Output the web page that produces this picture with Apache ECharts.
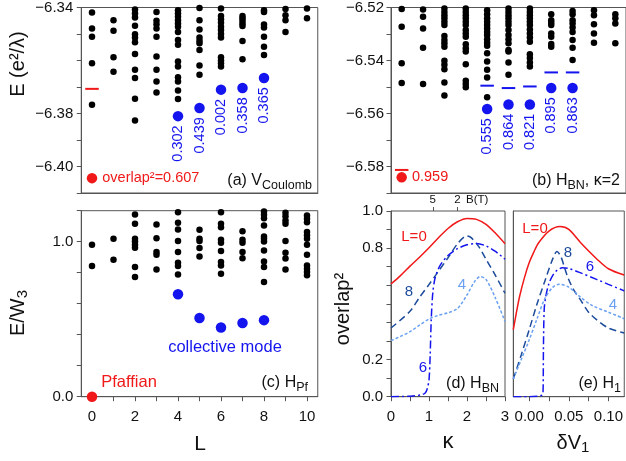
<!DOCTYPE html>
<html>
<head>
<meta charset="utf-8">
<script src="https://cdn.jsdelivr.net/npm/echarts@6/dist/echarts.min.js"></script>
<style>html,body{margin:0;padding:0;background:#fff}#chart{width:626px;height:461px}</style>
</head>
<body>
<div id="chart"></div>
<script>
// ---- data ----
var modeL = [4, 5, 6, 7, 8];

// (a) Coulomb spectrum, E in e^2/lambda, one list per L = 0..10
var coulombLevels = [
  [-6.3419, -6.3479, -6.3510, -6.3610, -6.3767],
  [-6.3448, -6.3488, -6.3588, -6.3642],
  [-6.3408, -6.3423, -6.3438, -6.3469, -6.3501, -6.3514, -6.3531, -6.3575, -6.3635, -6.3666, -6.3744, -6.3826],
  [-6.3417, -6.3450, -6.3463, -6.3479, -6.3510, -6.3585, -6.3635, -6.3679, -6.3721],
  [-6.3410, -6.3423, -6.3435, -6.3448, -6.3460, -6.3473, -6.3492, -6.3523, -6.3541, -6.3604, -6.3623, -6.3663, -6.3679, -6.3713, -6.3745],
  [-6.3402, -6.3448, -6.3483, -6.3513, -6.3525, -6.3535, -6.3560, -6.3619, -6.3654],
  [-6.3404, -6.3432, -6.3444, -6.3458, -6.3473, -6.3485, -6.3500, -6.3513, -6.3588, -6.3600, -6.3610, -6.3623],
  [-6.3432, -6.3441, -6.3450, -6.3460, -6.3470, -6.3526, -6.3595],
  [-6.3410, -6.3417, -6.3464, -6.3475, -6.3510, -6.3548, -6.3579],
  [-6.3406, -6.3429, -6.3448, -6.3492],
  [-6.3404, -6.3441]
];
var coulombMode = [-6.3810, -6.3779, -6.3710, -6.3704, -6.3666];
var coulombModeOverlap = ['0.302', '0.439', '0.002', '0.358', '0.365'];
var coulombPfDot = -6.4044;
var coulombPfDash = -6.3707;
var coulombPfOverlap = '0.607';

// (b) H_BN at kappa = 2
var bnLevels = [
  [-6.5206, -6.5273, -6.5410, -6.5485],
  [-6.5208, -6.5235, -6.5279, -6.5352, -6.5489],
  [-6.5204, -6.5217, -6.5229, -6.5241, -6.5254, -6.5266, -6.5308, -6.5323, -6.5335, -6.5348, -6.5401, -6.5416, -6.5433, -6.5483, -6.5532],
  [-6.5204, -6.5217, -6.5229, -6.5241, -6.5254, -6.5266, -6.5285, -6.5298, -6.5310, -6.5339, -6.5354, -6.5366, -6.5414, -6.5476, -6.5489, -6.5501],
  [-6.5210, -6.5225, -6.5241, -6.5254, -6.5266, -6.5279, -6.5292, -6.5304, -6.5320, -6.5333, -6.5344, -6.5373, -6.5404, -6.5435, -6.5464, -6.5539],
  [-6.5204, -6.5217, -6.5229, -6.5241, -6.5254, -6.5266, -6.5285, -6.5304, -6.5320, -6.5335, -6.5360, -6.5366, -6.5408, -6.5454],
  [-6.5204, -6.5217, -6.5229, -6.5241, -6.5254, -6.5266, -6.5283, -6.5298, -6.5313, -6.5329, -6.5376, -6.5391, -6.5408, -6.5423],
  [-6.5225, -6.5248, -6.5258, -6.5266, -6.5298, -6.5310, -6.5338, -6.5348],
  [-6.5213, -6.5225, -6.5248, -6.5260, -6.5275, -6.5292, -6.5323, -6.5352, -6.5398],
  [-6.5210, -6.5229, -6.5263, -6.5298, -6.5333],
  [-6.5225, -6.5241, -6.5260, -6.5335]
];
var bnMode = [-6.5583, -6.5566, -6.5566, -6.5504, -6.5504];
var bnModeDash = [-6.5495, -6.5504, -6.5498, -6.5445, -6.5445];
var bnModeOverlap = ['0.555', '0.864', '0.821', '0.895', '0.863'];
var bnPfDot = -6.5841;
var bnPfDash = -6.5813;
var bnPfOverlap = '0.959';

// (c) H_Pf, E/W3
var pfLevels = [
  [0.981, 0.843],
  [1.019, 0.884],
  [1.176, 1.116, 1.019, 1.002, 0.981, 0.961, 0.837, 0.772],
  [1.111, 1.023, 0.933, 0.916, 0.820],
  [1.190, 1.122, 1.079, 1.004, 0.933, 0.865, 0.843, 0.788],
  [1.077, 1.019, 1.004, 0.959, 0.905],
  [1.190, 1.116, 1.094, 1.013, 0.994, 0.940, 0.869, 0.847, 0.794],
  [1.068, 1.013, 0.994, 0.933, 0.894],
  [1.195, 1.174, 1.152, 1.105, 1.034, 1.019, 1.002, 0.944, 0.873, 0.837, 0.740],
  [1.187, 1.165, 1.137, 1.116, 1.004, 0.929, 0.891, 0.820],
  [1.169, 1.148, 1.126, 1.062, 1.041, 1.019, 0.981, 0.916, 0.847, 0.826, 0.804, 0.783]
];
var pfMode = [0.661, 0.508, 0.447, 0.476, 0.494];
var pfGround = 0;

// (d) overlap^2 vs kappa
var kapL0 = [0, 0.25, 0.5, 0.75, 1, 1.25, 1.5, 1.75, 2, 2.25, 2.5, 2.75, 3];
var ovL0 = [0.607, 0.652, 0.703, 0.751, 0.802, 0.856, 0.906, 0.942, 0.960, 0.955, 0.928, 0.880, 0.824];
var kapL8 = [0, 0.5, 0.75, 1, 1.25, 1.5, 1.75, 2, 2.1, 2.3, 2.5, 2.75, 3];
var ovL8 = [0.370, 0.460, 0.535, 0.604, 0.676, 0.748, 0.823, 0.866, 0.858, 0.811, 0.740, 0.652, 0.557];
var kapL6 = [0, 0.5, 0.8, 0.9, 0.95, 1.0, 1.03, 1.06, 1.1, 1.15, 1.2, 1.3, 1.5, 1.75, 2, 2.25, 2.5, 2.75, 3];
var ovL6 = [0.0, 0.003, 0.01, 0.02, 0.04, 0.09, 0.22, 0.42, 0.56, 0.63, 0.665, 0.71, 0.76, 0.797, 0.818, 0.825, 0.812, 0.782, 0.740];
var kapL4 = [0, 0.25, 0.5, 0.75, 1, 1.25, 1.5, 1.75, 2, 2.2, 2.35, 2.5, 2.75, 3];
var ovL4 = [0.302, 0.325, 0.350, 0.385, 0.418, 0.438, 0.452, 0.475, 0.548, 0.620, 0.647, 0.632, 0.530, 0.405];
var bField = ['5', '2'];
var bKappa = [1.10, 1.75];

// (e) overlap^2 vs dV1
var dvL0 = [-0.02, -0.016, -0.012, -0.006, 0, 0.006, 0.012, 0.025, 0.039, 0.05, 0.065, 0.086, 0.1, 0.12];
var eOvL0 = [0.361, 0.455, 0.541, 0.64, 0.721, 0.78, 0.829, 0.892, 0.916, 0.901, 0.829, 0.739, 0.689, 0.655];
var dvL8 = [-0.02, -0.01, 0, 0.01, 0.02, 0.03, 0.035, 0.04, 0.045, 0.05, 0.057, 0.065, 0.075, 0.085, 0.1, 0.12];
var eOvL8 = [0.095, 0.225, 0.36, 0.5, 0.625, 0.745, 0.782, 0.755, 0.69, 0.63, 0.57, 0.52, 0.455, 0.415, 0.37, 0.343];
var dvL6 = [-0.02, 0, 0.012, 0.016, 0.0175, 0.018, 0.019, 0.021, 0.025, 0.03, 0.035, 0.042, 0.05, 0.065, 0.085, 0.1, 0.12];
var eOvL6 = [0, 0, 0.003, 0.008, 0.02, 0.25, 0.47, 0.54, 0.61, 0.655, 0.68, 0.694, 0.69, 0.667, 0.632, 0.605, 0.57];
var dvL4 = [-0.02, -0.01, 0, 0.01, 0.02, 0.03, 0.038, 0.05, 0.065, 0.08, 0.1, 0.12];
var eOvL4 = [0.095, 0.2, 0.305, 0.42, 0.53, 0.59, 0.605, 0.59, 0.535, 0.49, 0.455, 0.42];

var ticksL = [0, 1, 2, 3, 4, 5, 6, 7, 8, 9, 10];
var labelsL = [0, 2, 4, 6, 8, 10];
var ticksDv = [0, 0.025, 0.05, 0.075, 0.1];
var labelsDv = [0, 0.05, 0.1];

// ---- styles ----
var FONT = '"Liberation Sans", Arial, Helvetica, sans-serif';
var RED = '#f01818';
var BLUE = '#1414ee';
var NAVY = '#1d4b9b';
var LIGHT = '#6aa0f0';
var AXIS = '#555';
var INK = '#111';

function levelPoints(levels) {
  var pts = [];
  levels.forEach(function (col, L) {
    col.forEach(function (e) { pts.push([L, e]); });
  });
  return pts;
}
function zip(xs, ys) {
  return xs.map(function (x, i) { return [x, ys[i]]; });
}
function showOnly(list, digits) {
  return function (v) {
    var r = Math.round(v * 1000);
    for (var i = 0; i < list.length; i++) {
      if (Math.round(list[i] * 1000) === r) return v.toFixed(digits).replace('-', '\u2212');
    }
    return '';
  };
}

var tickStyle = { show: true, inside: false, length: 4.5, lineStyle: { color: AXIS, width: 1 } };
var lineStyleAxis = { show: true, onZero: false, lineStyle: { color: AXIS, width: 1 } };
var labelStyle = { color: INK, fontSize: 15, fontFamily: FONT };

function gridBox(left, top, width, height) {
  return { left: left, top: top, width: width, height: height, show: true, borderColor: AXIS, borderWidth: 1, containLabel: false };
}

var myChart = echarts.init(document.getElementById('chart'), null, { renderer: 'canvas' });

var grids = [
  gridBox(81.25, 7.3, 236.5, 185.7),
  gridBox(391, 7.3, 236.5, 185.7),
  gridBox(81.25, 210.7, 236.5, 186),
  gridBox(391, 211, 114, 185.7),
  gridBox(513.3, 211, 114.7, 185.7)
];

var xAxes = [
  { gridIndex: 0, type: 'value', min: -0.5, max: 10.5, axisLine: lineStyleAxis, axisTick: { show: false }, axisLabel: { show: false }, splitLine: { show: false } },
  { gridIndex: 1, type: 'value', min: -0.5, max: 10.5, axisLine: lineStyleAxis, axisTick: { show: false }, axisLabel: { show: false }, splitLine: { show: false } },
  { gridIndex: 2, type: 'value', min: -0.5, max: 10.5, axisLine: lineStyleAxis,
    axisTick: Object.assign({}, tickStyle, { customValues: ticksL }),
    axisLabel: Object.assign({}, labelStyle, { customValues: labelsL, margin: 13 }), splitLine: { show: false } },
  { gridIndex: 3, type: 'value', min: 0, max: 3, interval: 0.5, axisLine: lineStyleAxis,
    axisTick: tickStyle,
    axisLabel: Object.assign({}, labelStyle, { margin: 13, formatter: function (v) { return Math.abs(v - Math.round(v)) < 1e-6 ? String(Math.round(v)) : ''; } }),
    splitLine: { show: false } },
  { gridIndex: 4, type: 'value', min: -0.02, max: 0.12, axisLine: lineStyleAxis,
    axisTick: Object.assign({}, tickStyle, { customValues: ticksDv }),
    axisLabel: Object.assign({}, labelStyle, { customValues: labelsDv, margin: 13, formatter: function (v) { return v.toFixed(2); } }),
    splitLine: { show: false } },
  // top B(T) scale of panel (d)
  { gridIndex: 3, type: 'value', position: 'top', min: 0, max: 3, axisLine: { show: false, onZero: false },
    axisTick: { show: true, inside: false, length: 4, customValues: bKappa, lineStyle: { color: AXIS } },
    axisLabel: { color: INK, fontSize: 11.5, fontFamily: FONT, margin: 5, customValues: bKappa.concat([2.27]),
      formatter: function (v) {
        for (var i = 0; i < bKappa.length; i++) if (Math.abs(v - bKappa[i]) < 1e-6) return bField[i];
        return 'B(T)';
      } },
    splitLine: { show: false } }
];

var yAxes = [
  { gridIndex: 0, type: 'value', min: -6.41, max: -6.34, interval: 0.01, axisLine: lineStyleAxis, axisTick: tickStyle,
    axisLabel: Object.assign({}, labelStyle, { margin: 8, formatter: showOnly([-6.34, -6.38, -6.40], 2) }), splitLine: { show: false } },
  { gridIndex: 1, type: 'value', min: -6.59, max: -6.52, interval: 0.01, axisLine: lineStyleAxis, axisTick: tickStyle,
    axisLabel: Object.assign({}, labelStyle, { margin: 7, formatter: showOnly([-6.52, -6.54, -6.56, -6.58], 2) }), splitLine: { show: false } },
  { gridIndex: 2, type: 'value', min: 0, max: 1.2, interval: 0.2, axisLine: lineStyleAxis, axisTick: tickStyle,
    axisLabel: Object.assign({}, labelStyle, { margin: 8, formatter: showOnly([0, 1], 1) }), splitLine: { show: false } },
  { gridIndex: 3, type: 'value', min: 0, max: 1, interval: 0.1, axisLine: lineStyleAxis, axisTick: tickStyle,
    axisLabel: Object.assign({}, labelStyle, { margin: 8, formatter: showOnly([0, 0.2, 0.8, 1], 1) }), splitLine: { show: false } },
  { gridIndex: 4, type: 'value', min: 0, max: 1, axisLine: lineStyleAxis, axisTick: { show: false }, axisLabel: { show: false }, splitLine: { show: false } }
];

function dots(idx, levels) {
  return { type: 'scatter', xAxisIndex: idx, yAxisIndex: idx, data: levelPoints(levels), symbolSize: 6.5,
    itemStyle: { color: '#000', opacity: 1 }, silent: true };
}
function modeDots(idx, values, overlaps) {
  return { type: 'scatter', xAxisIndex: idx, yAxisIndex: idx, data: zip(modeL, values), symbolSize: 10.5,
    itemStyle: { color: BLUE, opacity: 1 }, z: 3,
    label: overlaps ? { show: true, position: 'bottom', distance: 4, rotate: 90, align: 'right', verticalAlign: 'middle',
      color: BLUE, fontSize: 14.5, fontFamily: FONT,
      formatter: function (p) { return overlaps[p.dataIndex]; } } : { show: false } };
}
function dash(idx, xs, values, color) {
  return { type: 'scatter', xAxisIndex: idx, yAxisIndex: idx, data: zip(xs, values), symbol: 'rect', symbolSize: [13.5, 2],
    itemStyle: { color: color, opacity: 1 } };
}
function groundDot(idx, value, text, offset) {
  return { type: 'scatter', xAxisIndex: idx, yAxisIndex: idx, data: [[0, value]], symbolSize: 10.5,
    itemStyle: { color: RED, opacity: 1 }, z: 3,
    label: { show: true, position: 'right', distance: 5, offset: offset || [0, 0], color: RED, fontSize: 14.5, fontFamily: FONT,
      formatter: text } };
}
function curve(idx, xs, ys, color, type) {
  return { type: 'line', xAxisIndex: idx, yAxisIndex: idx, data: zip(xs, ys), showSymbol: false, smooth: 0.3,
    lineStyle: { color: color, width: 1.5, type: type }, silent: true };
}

var series = [
  dots(0, coulombLevels),
  dash(0, [0], [coulombPfDash], RED),
  modeDots(0, coulombMode, coulombModeOverlap),
  groundDot(0, coulombPfDot, 'overlap\u00b2=' + coulombPfOverlap),

  dots(1, bnLevels),
  dash(1, [0], [bnPfDash], RED),
  dash(1, modeL, bnModeDash, BLUE),
  modeDots(1, bnMode, bnModeOverlap),
  groundDot(1, bnPfDot, bnPfOverlap),

  dots(2, pfLevels),
  modeDots(2, pfMode, null),
  { type: 'scatter', xAxisIndex: 2, yAxisIndex: 2, data: [[0, pfGround]], symbolSize: 10.5, itemStyle: { color: RED, opacity: 1 }, z: 3 },

  curve(3, kapL0, ovL0, RED, 'solid'),
  curve(3, kapL8, ovL8, NAVY, [7, 4]),
  curve(3, kapL6, ovL6, BLUE, [8, 3, 2, 3]),
  curve(3, kapL4, ovL4, LIGHT, [3, 2]),

  curve(4, dvL0, eOvL0, RED, 'solid'),
  curve(4, dvL8, eOvL8, NAVY, [7, 4]),
  curve(4, dvL6, eOvL6, BLUE, [8, 3, 2, 3]),
  curve(4, dvL4, eOvL4, LIGHT, [3, 2])
];

var richMain = { fontSize: 16, fontFamily: FONT, fill: INK, lineHeight: 18 };
var richSub = { fontSize: 12.5, fontFamily: FONT, fill: INK, padding: [9, 0, 0, 0], lineHeight: 12 };
function txt(x, y, text, size, color, opts) {
  var o = { type: 'text', x: x, y: y, silent: true, z: 10,
    style: { text: text, font: size + 'px ' + FONT, fill: color, align: 'center', verticalAlign: 'middle' } };
  if (opts) {
    if (opts.align) o.style.align = opts.align;
    if (opts.rotate) o.rotation = Math.PI / 2;
    if (opts.rich) o.style.rich = opts.rich;
  }
  return o;
}
var bigMain = { fontSize: 20, fontFamily: FONT, fill: INK, lineHeight: 22 };
var bigSub = { fontSize: 15, fontFamily: FONT, fill: INK, padding: [10, 0, 0, 0], lineHeight: 15 };

var graphics = [
  // axis titles
  txt(18, 64, 'E (e\u00b2/\u03bb)', 20, INK, { rotate: true }),
  txt(18, 313, '{m|E/W}{s|3}', 20, INK, { rotate: true, rich: { m: bigMain, s: bigSub } }),
  txt(343, 309, 'overlap\u00b2', 20, INK, { rotate: true }),
  txt(200, 444, 'L', 21, INK),
  txt(448, 442, '\u03ba', 22, INK),
  txt(573, 443, '{m|\u03b4V}{s|1}', 21, INK, { rich: { m: bigMain, s: bigSub } }),
  // panel tags
  txt(312, 181, '{m|(a) V}{s|Coulomb}', 16, INK, { align: 'right', rich: { m: richMain, s: richSub } }),
  txt(620, 181, '{m|(b) H}{s|BN}{m|, \u03ba=2}', 16, INK, { align: 'right', rich: { m: richMain, s: richSub } }),
  txt(308, 383, '{m|(c) H}{s|Pf}', 16, INK, { align: 'right', rich: { m: richMain, s: richSub } }),
  txt(499, 384, '{m|(d) H}{s|BN}', 16, INK, { align: 'right', rich: { m: richMain, s: richSub } }),
  txt(621, 384, '{m|(e) H}{s|1}', 16, INK, { align: 'right', rich: { m: richMain, s: richSub } }),
  // annotations
  txt(129, 382, 'Pfaffian', 16.5, RED),
  txt(225, 347, 'collective mode', 16.5, BLUE),
  txt(414, 237, 'L=0', 15, RED),
  txt(409, 292, '8', 15, NAVY),
  txt(462, 285, '4', 15, LIGHT),
  txt(423, 368, '6', 15, BLUE),
  txt(535, 229, 'L=0', 15, RED),
  txt(568, 253, '8', 15, NAVY),
  txt(590, 267, '6', 15, BLUE),
  txt(613, 305, '4', 15, LIGHT)
];

myChart.setOption({
  animation: false,
  backgroundColor: '#fff',
  textStyle: { fontFamily: FONT },
  grid: grids,
  xAxis: xAxes,
  yAxis: yAxes,
  series: series,
  graphic: graphics
});
</script>
</body>
</html>
